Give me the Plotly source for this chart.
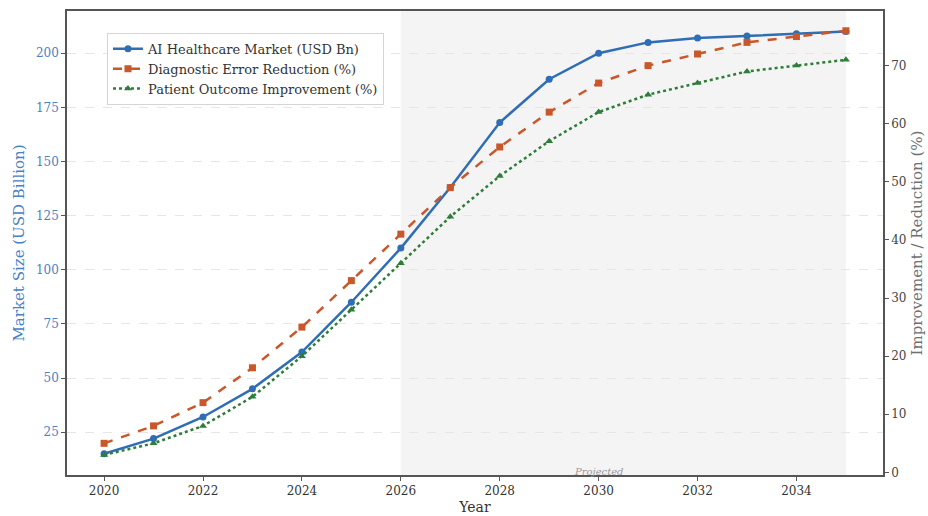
import plotly.graph_objects as go

years = list(range(2020, 2036))
market_usd_bn = [15, 22, 32, 45, 62, 85, 110, 138, 168, 188, 200, 205, 207, 208, 209, 210]
diag_error_reduction = [5, 8, 12, 18, 25, 33, 41, 49, 56, 62, 67, 70, 72, 74, 75, 76]
patient_outcome = [3, 5, 8, 13, 20, 28, 36, 44, 51, 57, 62, 65, 67, 69, 70, 71]
x_ticks = [2020, 2022, 2024, 2026, 2028, 2030, 2032, 2034]
left_ticks = [25, 50, 75, 100, 125, 150, 175, 200]
right_ticks = [0, 10, 20, 30, 40, 50, 60, 70]
projected_start, projected_end = 2026, 2035

FONT = "DejaVu Serif"
BLUE = "#2F6DB5"
ORANGE = "#C9572A"
GREEN = "#2E7D3A"
AXBLUE = "#4A80C4"
SPINE = "#555555"

fig = go.Figure()
fig.add_trace(go.Scatter(
    x=years, y=market_usd_bn, name="AI Healthcare Market (USD Bn)",
    mode="lines+markers", line=dict(color=BLUE, width=2.5),
    marker=dict(symbol="circle", size=7, color=BLUE), yaxis="y"))
fig.add_trace(go.Scatter(
    x=years, y=diag_error_reduction, name="Diagnostic Error Reduction (%)",
    mode="lines+markers", line=dict(color=ORANGE, width=2.5, dash="dash"),
    marker=dict(symbol="square", size=7, color=ORANGE), yaxis="y2"))
fig.add_trace(go.Scatter(
    x=years, y=patient_outcome, name="Patient Outcome Improvement (%)",
    mode="lines+markers", line=dict(color=GREEN, width=2.5, dash="dot"),
    marker=dict(symbol="triangle-up", size=7, color=GREEN), yaxis="y2"))

fig.add_shape(type="rect", xref="x", yref="paper", x0=projected_start, x1=projected_end,
              y0=0, y1=1, fillcolor="#F4F4F4", line=dict(width=0), layer="below")
fig.add_annotation(x=2030, xref="x", y=0, yref="paper", yanchor="bottom", yshift=-4,
                   text="<i>Projected</i>",
                   showarrow=False, font=dict(family=FONT, size=10, color="#9A9A9A"))

fig.update_layout(
    width=928, height=516,
    margin=dict(l=67, r=45, t=11, b=41),
    paper_bgcolor="white", plot_bgcolor="white",
    font=dict(family=FONT, size=12, color="#333333"),
    showlegend=True,
    legend=dict(x=0.049, y=0.953, xanchor="left", yanchor="top",
                bgcolor="rgba(255,255,255,0.9)", bordercolor="#D5D5D5", borderwidth=1,
                font=dict(family=FONT, size=13, color="#333333"),
                tracegroupgap=0, itemwidth=30),
    xaxis=dict(range=[2019.25, 2035.75], tickvals=x_ticks, ticks="outside", ticklen=4,
               tickcolor=SPINE, showline=True, linecolor=SPINE, linewidth=1.5, mirror=True,
               showgrid=False, zeroline=False, automargin=False,
               title=dict(text="Year", font=dict(family=FONT, size=14, color="#333333"), standoff=5),
               tickfont=dict(family=FONT, size=12, color="#333333")),
    yaxis=dict(range=[5.2, 219.5], tickvals=left_ticks, ticks="outside", ticklen=4,
               tickcolor=SPINE, showline=True, linecolor=SPINE, linewidth=1.5,
               showgrid=True, gridcolor="#E6E6E6", griddash="dash", gridwidth=1, zeroline=False,
               automargin=False,
               title=dict(text="Market Size (USD Billion)", font=dict(family=FONT, size=15, color=AXBLUE), standoff=8),
               tickfont=dict(family=FONT, size=12, color=AXBLUE)),
    yaxis2=dict(range=[-0.45, 79.4], tickvals=right_ticks, overlaying="y", side="right",
                ticks="outside", ticklen=4, tickcolor=SPINE, showline=True, linecolor=SPINE,
                linewidth=1.5, showgrid=False, zeroline=False, automargin=False,
                title=dict(text="Improvement / Reduction (%)", font=dict(family=FONT, size=15, color="#707070"), standoff=6),
                tickfont=dict(family=FONT, size=12, color="#444444")),
)

fig.write_html("out.html", config={"displayModeBar": False},
               post_script="document.body.style.margin='0px';")
